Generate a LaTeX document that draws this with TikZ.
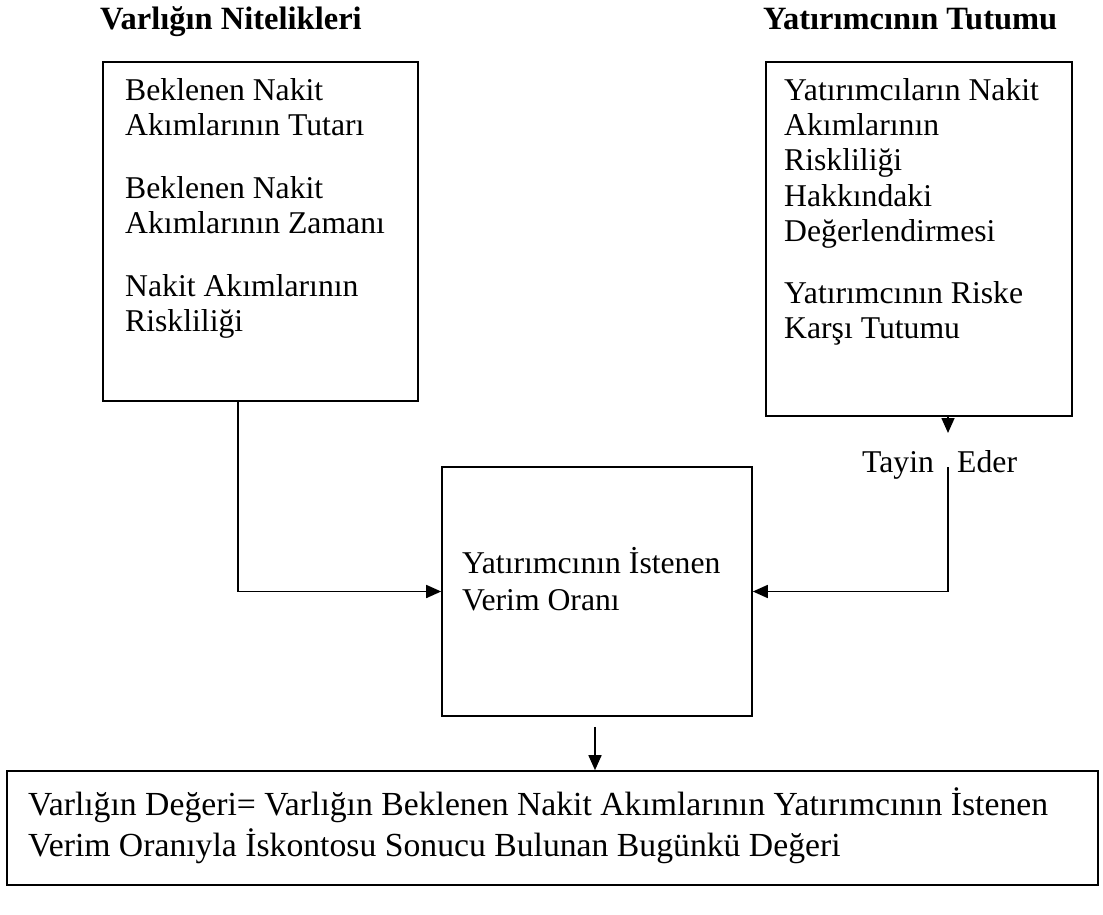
\documentclass[tikz,border=0pt]{standalone}
\usepackage{fontspec}
\setmainfont{Liberation Serif}
\usetikzlibrary{arrows.meta,calc}
\tikzset{
  box/.style={draw=black, line width=1.6pt, rectangle, inner sep=0pt},
  txt/.style={anchor=base west, inner sep=0pt, font=\fontsize{31.7}{35}\selectfont},
  bigtxt/.style={txt, font=\fontsize{33.7}{38}\selectfont},
  head/.style={txt, font=\fontsize{32.5}{35}\selectfont\bfseries},
  conn/.style={draw=black, line width=1.6pt, -{Triangle[length=15pt,width=13pt]}}
}
\begin{document}
\begin{tikzpicture}[x=1pt,y=-1pt]
\useasboundingbox (0,0) rectangle (1103,915);
% headers
\node[head] (h1) at (100,30) {Varlığın Nitelikleri};
\node[head] (h2) at (763,30) {Yatırımcının Tutumu};
% boxes
\node[box, minimum width=315pt, minimum height=339pt] (lb) at (260.5,231.5) {};
\node[box, minimum width=306pt, minimum height=354pt] (rb) at (919,239) {};
\node[box, minimum width=310pt, minimum height=249pt] (mid) at (597,591.5) {};
\node[box, minimum width=1091pt, minimum height=114pt] (bot) at (552.5,828) {};
% left box text
\node[txt] (l1) at (125,101) {Beklenen Nakit};
\node[txt] (l2) at (125,136) {Akımlarının Tutarı};
\node[txt] (l3) at (125,198) {Beklenen Nakit};
\node[txt] (l4) at (125,233) {Akımlarının Zamanı};
\node[txt] (l5) at (125,296) {Nakit Akımlarının};
\node[txt] (l6) at (125,331) {Riskliliği};
% right box text
\node[txt] (r1) at (784,101) {Yatırımcıların Nakit};
\node[txt] (r2) at (784,136) {Akımlarının};
\node[txt] (r3) at (784,171) {Riskliliği};
\node[txt] (r4) at (784,206) {Hakkındaki};
\node[txt] (r5) at (784,241) {Değerlendirmesi};
\node[txt] (r6) at (784,303) {Yatırımcının Riske};
\node[txt] (r7) at (784,338) {Karşı Tutumu};
% middle text
\node[txt] (m1) at (462,573) {Yatırımcının İstenen};
\node[txt] (m2) at (462,610) {Verim Oranı};
% bottom text
\node[bigtxt] (b1) at (28,815) {Varlığın Değeri= Varlığın Beklenen Nakit Akımlarının Yatırımcının İstenen};
\node[bigtxt] (b2) at (28,856) {Verim Oranıyla İskontosu Sonucu Bulunan Bugünkü Değeri};
% Tayin Eder
\node[txt] (ty) at (862,472) {Tayin};
\node[txt] (ed) at (957,472) {Eder};
% connectors
\coordinate (lstart) at ($(lb.south west)+(136,0)$);
\draw[conn] (lstart) |- (mid.west);
\coordinate (rtip) at (948,433);
\draw[conn] (rb.south -| rtip) -- (rtip);
\coordinate (rresume) at (948,467);
\draw[conn] (rresume) |- (mid.east);
\coordinate (mstart) at ($(mid.south)+(-2,10)$);
\draw[conn] (mstart) -- (mstart |- bot.north);
\end{tikzpicture}
\end{document}
